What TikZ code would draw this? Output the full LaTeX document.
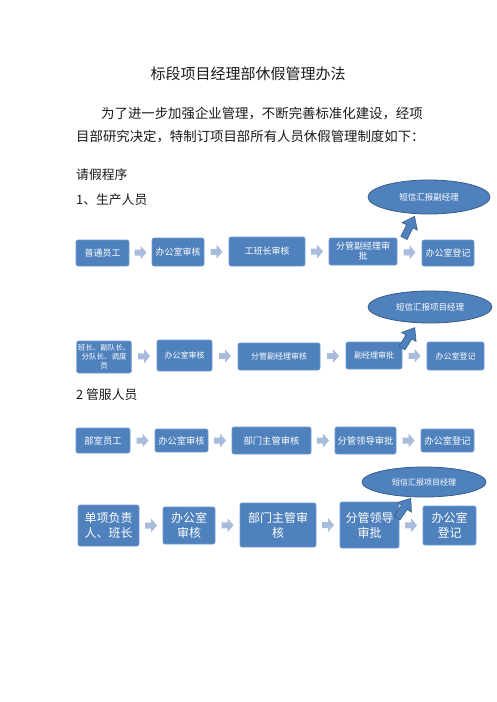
\documentclass[tikz,border=0pt]{standalone}
\usepackage{fontspec}
\setmainfont{Noto Sans CJK SC}
\usetikzlibrary{calc,shapes.geometric}
\definecolor{boxblue}{HTML}{4F81BD}
\definecolor{boxedge}{HTML}{6F9AD0}
\definecolor{ovaledge}{HTML}{385D8A}
\definecolor{arrowblue}{HTML}{A9BCDC}
\definecolor{txt}{HTML}{1A1A1A}
\newcommand\myfs[2]{\fontsize{#1}{#2}\selectfont}
\begin{document}
\begin{tikzpicture}[x=1pt,y=-1pt,
  box/.style={draw=boxedge, fill=boxblue, rounded corners=2pt, text=white, align=center, inner sep=1pt, line width=0.6pt},
  oval/.style={ellipse, draw=ovaledge, fill=boxblue, line width=0.8pt, text=white, inner sep=0pt, font=\myfs{8.5}{10}},
  plain/.style={text=txt, inner sep=0pt, anchor=west},
  rarr/.pic={\fill[arrowblue] (-6,-3) -- (0,-3) -- (0,-7) -- (6,0) -- (0,7) -- (0,3) -- (-6,3) -- cycle;},
  uarr/.pic={\filldraw[fill=boxblue, draw=ovaledge, line width=0.6pt, line join=miter] (0,-3.5) -- (13,-3.5) -- (13,-8.5) -- (24,0) -- (13,8.5) -- (13,3.5) -- (0,3.5) -- cycle;}
]
\useasboundingbox[fill=white] (0,0) rectangle (496,702);

% texts
\node[text=txt, inner sep=0pt, font=\myfs{15}{18}] (title) at (248,74) {标段项目经理部休假管理办法};
\node[plain, font=\myfs{13.4}{16}] (p1) at (101,114) {为了进一步加强企业管理，不断完善标准化建设，经项};
\node[plain, font=\myfs{13.4}{16}] (p2) at (76,137) {目部研究决定，特制订项目部所有人员休假管理制度如下：};
\node[plain, font=\myfs{12.8}{15}] (h0) at (76,175) {请假程序};
\node[plain, font=\myfs{12.8}{15}] (h1) at (76,200) {1、生产人员};
\node[plain, font=\myfs{12.8}{15}] (h2) at (76,395) {2 管服人员};

% row 1
\begin{scope}[every node/.append style={font=\myfs{9}{10}}]
\node[box, minimum width=53pt, minimum height=26pt] (a1) at (102.5,253) {普通员工};
\node[box, minimum width=52pt, minimum height=28pt] (a2) at (178,252) {办公室审核};
\node[box, minimum width=76pt, minimum height=29pt] (a3) at (267,251.5) {工班长审核};
\node[box, minimum width=68pt, minimum height=27pt] (a4) at (363,251.5) {分管副经理审\\批};
\node[box, minimum width=52pt, minimum height=26pt] (a5) at (448,253) {办公室登记};
\end{scope}
\node[oval, minimum width=122pt, minimum height=34pt] (e1) at (429,197) {短信汇报副经理};
\pic at ($(a1.east)!.5!(a2.west)$) {rarr};
\pic at ($(a2.east)!.5!(a3.west)$) {rarr};
\pic at ($(a3.east)!.5!(a4.west)$) {rarr};
\pic at ($(a4.east)!.5!(a5.west)$) {rarr};
\pic[rotate=64] at (404,238) {uarr};

% row 2
\begin{scope}[every node/.append style={font=\myfs{8}{9.5}}]
\node[box, minimum width=54pt, minimum height=32pt, font=\myfs{7.5}{9}] (b1) at (104,357) {班长、副队长、\\分队长、调度\\员};
\node[box, minimum width=55pt, minimum height=31pt] (b2) at (184.5,355.5) {办公室审核};
\node[box, minimum width=82pt, minimum height=27pt] (b3) at (279,356.5) {分管副经理审核};
\node[box, minimum width=56pt, minimum height=27pt] (b4) at (374,355.5) {副经理审批};
\node[box, minimum width=57pt, minimum height=28pt] (b5) at (455.5,356) {办公室登记};
\end{scope}
\node[oval, minimum width=124pt, minimum height=32pt] (e2) at (430,307) {短信汇报项目经理};
\pic at ($(b1.east)!.5!(b2.west)$) {rarr};
\pic at ($(b2.east)!.5!(b3.west)$) {rarr};
\pic at ($(b3.east)!.5!(b4.west)$) {rarr};
\pic at ($(b4.east)!.5!(b5.west)$) {rarr};
\pic[rotate=58] at (402,348) {uarr};

% row 3
\begin{scope}[every node/.append style={font=\myfs{9.3}{11}}]
\node[box, minimum width=54pt, minimum height=25pt] (c1) at (103,440.5) {部室员工};
\node[box, minimum width=53pt, minimum height=23pt] (c2) at (181.5,440.5) {办公室审核};
\node[box, minimum width=79pt, minimum height=27pt] (c3) at (271.5,440.5) {部门主管审核};
\node[box, minimum width=61pt, minimum height=27pt] (c4) at (365.5,440.5) {分管领导审批};
\node[box, minimum width=53pt, minimum height=23pt] (c5) at (447.5,440.5) {办公室登记};
\end{scope}
\pic at ($(c1.east)!.5!(c2.west)$) {rarr};
\pic at ($(c2.east)!.5!(c3.west)$) {rarr};
\pic at ($(c3.east)!.5!(c4.west)$) {rarr};
\pic at ($(c4.east)!.5!(c5.west)$) {rarr};

% row 4
\begin{scope}[every node/.append style={font=\myfs{12}{15}}]
\node[box, minimum width=61pt, minimum height=41pt] (d1) at (108.5,525.5) {单项负责\\人、班长};
\node[box, minimum width=52pt, minimum height=37pt] (d2) at (189,525.5) {办公室\\审核};
\node[box, minimum width=76pt, minimum height=44pt] (d3) at (278,525) {部门主管审\\核};
\node[box, minimum width=59pt, minimum height=46pt] (d4) at (369.5,525) {分管领导\\审批};
\node[box, minimum width=53pt, minimum height=39pt] (d5) at (449.5,525.5) {办公室\\登记};
\end{scope}
\node[oval, minimum width=124pt, minimum height=30pt, font=\myfs{8}{9.5}] (e3) at (424,482) {短信汇报项目经理};
\pic at ($(d1.east)!.5!(d2.west)$) {rarr};
\pic at ($(d2.east)!.5!(d3.west)$) {rarr};
\pic at ($(d3.east)!.5!(d4.west)$) {rarr};
\pic at ($(d4.east)!.5!(d5.west)$) {rarr};
\pic[rotate=55] at (397,518) {uarr};
\end{tikzpicture}
\end{document}
